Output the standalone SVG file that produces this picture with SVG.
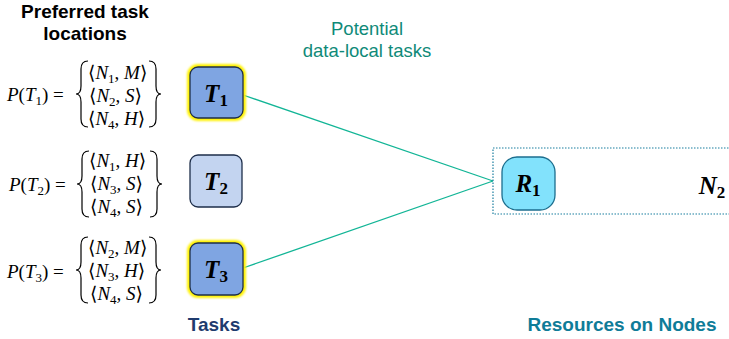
<svg xmlns="http://www.w3.org/2000/svg" width="729" height="339" viewBox="0 0 729 339">
  <defs>
    <filter id="glow" x="-30%" y="-30%" width="160%" height="160%">
      <feGaussianBlur stdDeviation="0.8"/>
    </filter>
  </defs>
  <style>
    .head { font-family: "Liberation Sans", Arial, sans-serif; font-weight: bold; font-size: 19px; fill: #000; text-anchor: middle; }
    .note { font-family: "Liberation Sans", Arial, sans-serif; font-size: 18.5px; fill: #0F8A78; text-anchor: middle; }
    .math { font-family: "Liberation Serif", "DejaVu Serif", serif; font-size: 19px; fill: #000; }
    .it { font-style: italic; }
    .sub { font-size: 13px; }
    .brace { fill: none; stroke: #000; stroke-width: 1.2; }
    .task { stroke: #1E2E4A; stroke-width: 1.3; }
    .hot { fill: #7FA5E2; }
    .cold { fill: #C3D4F0; }
    .halo { fill: none; stroke: #FFF200; stroke-width: 6; filter: url(#glow); }
    .lbl { font-family: "Liberation Serif", "DejaVu Serif", serif; font-weight: bold; font-style: italic; font-size: 25px; fill: #000; text-anchor: middle; }
    .lsub { font-size: 17px; font-style: normal; }
    .link { stroke: #12B596; stroke-width: 1.3; fill: none; }
    .cap { font-family: "Liberation Sans", Arial, sans-serif; font-weight: bold; font-size: 19px; text-anchor: middle; }
  </style>

  <!-- headings -->
  <text class="head" x="85" y="18">Preferred task</text>
  <text class="head" x="85" y="40">locations</text>
  <text class="note" x="367" y="35">Potential</text>
  <text class="note" x="367" y="57">data-local tasks</text>

  <!-- preference sets -->
  <g id="pref-t1">
    <text class="math" x="7" y="101"><tspan class="it">P</tspan>(<tspan class="it">T</tspan><tspan class="sub" dy="4">1</tspan><tspan dy="-4">) =</tspan></text>
    <path class="brace" d="M88,61 Q81,61 81,69 L81,86 Q81,94 76,94 Q81,94 81,102 L81,119 Q81,127 88,127"/>
    <path class="brace" d="M149,61 Q156,61 156,69 L156,86 Q156,94 161,94 Q156,94 156,102 L156,119 Q156,127 149,127"/>
    <text class="math" x="88" y="79">⟨<tspan class="it">N</tspan><tspan class="sub" dy="4">1</tspan><tspan dy="-4">, </tspan><tspan class="it">M</tspan>⟩</text>
    <text class="math" x="89" y="102">⟨<tspan class="it">N</tspan><tspan class="sub" dy="4">2</tspan><tspan dy="-4">, </tspan><tspan class="it">S</tspan>⟩</text>
    <text class="math" x="88" y="125">⟨<tspan class="it">N</tspan><tspan class="sub" dy="4">4</tspan><tspan dy="-4">, </tspan><tspan class="it">H</tspan>⟩</text>
  </g>
  <g id="pref-t2">
    <text class="math" x="9" y="191"><tspan class="it">P</tspan>(<tspan class="it">T</tspan><tspan class="sub" dy="4">2</tspan><tspan dy="-4">) =</tspan></text>
    <path class="brace" d="M89,151 Q82,151 82,159 L82,176 Q82,184 77,184 Q82,184 82,192 L82,209 Q82,217 89,217"/>
    <path class="brace" d="M150,151 Q157,151 157,159 L157,176 Q157,184 162,184 Q157,184 157,192 L157,209 Q157,217 150,217"/>
    <text class="math" x="89" y="167">⟨<tspan class="it">N</tspan><tspan class="sub" dy="4">1</tspan><tspan dy="-4">, </tspan><tspan class="it">H</tspan>⟩</text>
    <text class="math" x="90" y="190">⟨<tspan class="it">N</tspan><tspan class="sub" dy="4">3</tspan><tspan dy="-4">, </tspan><tspan class="it">S</tspan>⟩</text>
    <text class="math" x="90" y="213">⟨<tspan class="it">N</tspan><tspan class="sub" dy="4">4</tspan><tspan dy="-4">, </tspan><tspan class="it">S</tspan>⟩</text>
  </g>
  <g id="pref-t3">
    <text class="math" x="7" y="278"><tspan class="it">P</tspan>(<tspan class="it">T</tspan><tspan class="sub" dy="4">3</tspan><tspan dy="-4">) =</tspan></text>
    <path class="brace" d="M88,237 Q81,237 81,245 L81,262 Q81,270 76,270 Q81,270 81,278 L81,295 Q81,303 88,303"/>
    <path class="brace" d="M149,237 Q156,237 156,245 L156,262 Q156,270 161,270 Q156,270 156,278 L156,295 Q156,303 149,303"/>
    <text class="math" x="88" y="254">⟨<tspan class="it">N</tspan><tspan class="sub" dy="4">2</tspan><tspan dy="-4">, </tspan><tspan class="it">M</tspan>⟩</text>
    <text class="math" x="88" y="277">⟨<tspan class="it">N</tspan><tspan class="sub" dy="4">3</tspan><tspan dy="-4">, </tspan><tspan class="it">H</tspan>⟩</text>
    <text class="math" x="90" y="300">⟨<tspan class="it">N</tspan><tspan class="sub" dy="4">4</tspan><tspan dy="-4">, </tspan><tspan class="it">S</tspan>⟩</text>
  </g>

  <!-- connectors -->
  <g id="connectors">
    <line class="link" x1="243" y1="95" x2="493" y2="181"/>
    <line class="link" x1="243" y1="268" x2="493" y2="181"/>
  </g>

  <!-- tasks -->
  <g id="task-t1">
    <rect class="halo" x="190" y="67" width="53" height="51" rx="8"/>
    <rect class="task hot" x="190" y="67" width="53" height="51" rx="8"/>
    <text class="lbl" x="216" y="102">T<tspan class="lsub" dy="4">1</tspan></text>
  </g>
  <g id="task-t2">
    <rect class="task cold" x="190" y="155" width="52" height="52" rx="8"/>
    <text class="lbl" x="216" y="190">T<tspan class="lsub" dy="4">2</tspan></text>
  </g>
  <g id="task-t3">
    <rect class="halo" x="190" y="243" width="53" height="52" rx="8"/>
    <rect class="task hot" x="190" y="243" width="53" height="52" rx="8"/>
    <text class="lbl" x="216" y="278">T<tspan class="lsub" dy="4">3</tspan></text>
  </g>

  <!-- node N2 with its resource -->
  <g id="node-n2">
    <rect x="493" y="148" width="240" height="66" fill="none" stroke="#1B7FA0" stroke-width="1.2" stroke-dasharray="1.5 1.5"/>
    <text class="lbl" x="712" y="194">N<tspan class="lsub" dy="4">2</tspan></text>
  </g>
  <g id="resource-r1">
    <rect x="502" y="157" width="53" height="53" rx="15" fill="#82E2FC" stroke="#1C6E8E" stroke-width="1.3"/>
    <text class="lbl" x="528" y="192">R<tspan class="lsub" dy="4">1</tspan></text>
  </g>

  <!-- captions -->
  <text class="cap" x="214" y="331" fill="#1F3B6E">Tasks</text>
  <text class="cap" x="622" y="331" fill="#0F7C98">Resources on Nodes</text>
</svg>
